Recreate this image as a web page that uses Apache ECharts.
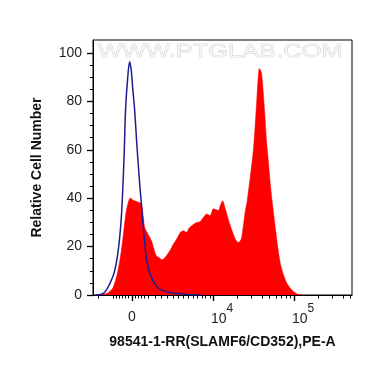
<!DOCTYPE html>
<html>
<head>
<meta charset="utf-8">
<script src="https://cdn.jsdelivr.net/npm/echarts@6/dist/echarts.min.js"></script>
<style>html,body{margin:0;padding:0;background:#fff}#c{width:370px;height:367px}</style>
</head>
<body>
<div id="c"></div>
<script>
// x positions are in display units of the biexponential axis: 3 = "0", 4 = 10^4, 5 = 10^5
const stainedX = [2.60,2.70,2.765,2.82,2.868,2.90,2.93,2.96,2.98,3.00,3.03,3.07,3.115,3.14,3.157,3.20,3.24,3.27,3.30,3.33,3.374,3.42,3.47,3.51,3.55,3.60,3.633,3.675,3.70,3.737,3.77,3.80,3.84,3.88,3.922,3.963,4.004,4.035,4.065,4.09,4.12,4.145,4.17,4.21,4.25,4.28,4.31,4.335,4.354,4.38,4.40,4.42,4.457,4.498,4.52,4.54,4.558,4.572,4.585,4.60,4.62,4.642,4.66,4.683,4.71,4.744,4.78,4.806,4.835,4.868,4.91,4.95,5.00,5.05,5.10];
const stainedY = [0,0.8,3,9,18.3,27,34.9,39,40.1,39.5,39,38.5,37.6,32,27.9,25,22.4,19,16.2,15.5,14.6,16,18.5,21,23,26,26.6,25.9,27.5,28.6,29.5,30,30.3,32,33.5,32.8,35.6,35.3,34.9,37,39,36.5,33.5,29,25.2,22.8,21.7,22.3,23.8,30,35,38.5,48,59.8,70,80.5,90,93.6,93,91.6,84,73.6,64,55.6,45,34.9,25,18.3,12.5,8.6,5,3,1.2,0.3,0];
const controlX = [2.55,2.62,2.66,2.70,2.75,2.786,2.82,2.848,2.87,2.889,2.905,2.92,2.945,2.97,2.99,3.01,3.033,3.06,3.095,3.12,3.136,3.155,3.177,3.21,3.24,3.29,3.34,3.40,3.47,3.55,3.65,3.75,3.85];
const controlY = [0,0.3,1,3,6.5,10,16,23.8,33,45.9,60,76.3,89,96.4,93,85,76.3,62,45.9,36,29.4,22,15.5,10,7.2,4.2,2.5,1.6,1.0,0.6,0.3,0.1,0];
const majorTicks = [3,4,5];
const powerTicks = [4,5];
const powerLabels = ['10^4','10^5'];
const zeroTick = [3];
const zeroLabel = '0';
const minorTicks = [2.58,2.765,2.802,2.84,2.877,2.914,2.951,3.037,3.074,3.111,3.148,3.198,3.284,3.367,3.436,3.51,3.572,3.633,3.69,3.75,3.81,3.87,3.91,3.963,4.301,4.477,4.602,4.699,4.778,4.845,4.903,4.954,5.301,5.477,5.602,5.699];
const yTicks = [0,20,40,60,80,100];
const yMinorTicks = [5,10,15,25,30,35,45,50,55,65,70,75,85,90,95];
const xTitle = '98541-1-RR(SLAMF6/CD352),PE-A';
const yTitle = 'Relative Cell Number';

const F = 'Liberation Sans, Arial, sans-serif';
const zip = (a,b) => a.map((v,i)=>[v,b[i]]);
const chart = echarts.init(document.getElementById('c'), null, {renderer:'canvas'});
const xmin = 2.5185, xmax = 5.716;
chart.setOption({
  animation:false,
  backgroundColor:'#fff',
  grid:{left:93,right:18,top:40,bottom:72,show:true,borderColor:'#000',borderWidth:1},
  graphic:[{type:'text',x:98,y:42,scaleX:1.34,z:10,silent:true,
    style:{text:'WWW.PTGLAB.COM',font:'19px '+F,fill:'#f4f4f4',stroke:'#c4c4c4',lineWidth:0.6}}],
  xAxis:[{
    type:'value',min:xmin,max:xmax,position:'bottom',
    name:xTitle,nameLocation:'middle',nameGap:40,
    nameTextStyle:{fontFamily:F,fontSize:14,fontWeight:'bold',color:'#111'},
    axisLine:{show:true,onZero:false,lineStyle:{color:'#000',width:1}},
    axisTick:{show:true,customValues:majorTicks,length:6,lineStyle:{color:'#000',width:1.4}},
    splitLine:{show:false},
    axisLabel:{show:true,customValues:powerTicks,margin:8,
      formatter:function(v){
        const i = powerTicks.findIndex(t=>Math.abs(t-v)<1e-6);
        const p = (i>=0?powerLabels[i]:'').split('^');
        return '{g|}{t|'+p[0]+'}{s|'+(p[1]||'')+'}';
      },
      rich:{
        g:{width:18,lineHeight:23},
        t:{fontFamily:F,fontSize:14,color:'#222',lineHeight:15,verticalAlign:'bottom'},
        s:{fontFamily:F,fontSize:12,color:'#222',lineHeight:12,verticalAlign:'top'}
      }}
  },{
    type:'value',min:xmin,max:xmax,position:'bottom',gridIndex:0,
    axisLine:{show:false,onZero:false},
    axisTick:{show:true,customValues:minorTicks,length:3.5,lineStyle:{color:'#000',width:1}},
    axisLabel:{show:true,customValues:zeroTick,formatter:function(){return zeroLabel;},
      fontFamily:F,fontSize:14,color:'#222',margin:15},
    splitLine:{show:false}
  }],
  yAxis:[{
    type:'value',min:0,max:105.4,position:'left',
    name:yTitle,nameLocation:'middle',nameGap:49,
    nameTextStyle:{fontFamily:F,fontSize:14,fontWeight:'bold',color:'#111'},
    axisLine:{show:true,onZero:false,lineStyle:{color:'#000',width:1}},
    axisTick:{show:true,customValues:yTicks,length:6,lineStyle:{color:'#000',width:1.3}},
    splitLine:{show:false},
    axisLabel:{customValues:yTicks,fontFamily:F,fontSize:14,color:'#222',margin:11}
  },{
    type:'value',min:0,max:105.4,position:'left',gridIndex:0,
    axisLine:{show:false,onZero:false},
    axisTick:{show:true,customValues:yMinorTicks,length:3,lineStyle:{color:'#000',width:1}},
    axisLabel:{show:false},splitLine:{show:false}
  }],
  series:[{
    type:'line',name:'stained',data:zip(stainedX,stainedY),symbol:'none',smooth:0.25,
    lineStyle:{width:0.5,color:'#ff0000'},areaStyle:{color:'#ff0000',opacity:1},z:2
  },{
    type:'line',name:'control',data:zip(controlX,controlY),symbol:'none',smooth:0.3,
    lineStyle:{width:1.5,color:'#1c1c90'},z:3
  }]
});
</script>
</body>
</html>
